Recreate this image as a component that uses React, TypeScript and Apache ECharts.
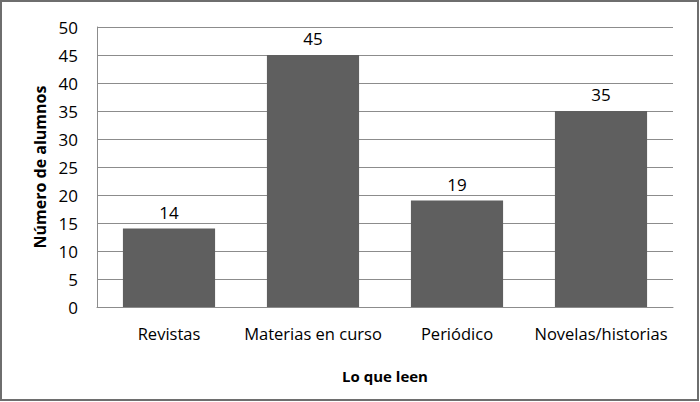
import React, { useEffect, useRef } from "react";
import * as echarts from "echarts";

const categories = ["Revistas", "Materias en curso", "Periódico", "Novelas/historias"];
const values = [14, 45, 19, 35];
const yTicks = { min: 0, max: 50, interval: 5 };
const xTitle = "Lo que leen";
const yTitle = "Número de alumnos";

const FONT = "'Open Sans', 'Noto Sans', sans-serif";

export default function App() {
  const ref = useRef<HTMLDivElement>(null);
  useEffect(() => {
    document.body.style.margin = "0";
    const chart = echarts.init(ref.current!, null, { renderer: "svg" });
    chart.setOption({
      animation: false,
      backgroundColor: "#ffffff",
      textStyle: { fontFamily: FONT },
      graphic: [
        {
          type: "rect",
          shape: { x: 1, y: 1, width: 697, height: 399 },
          style: { fill: "none", stroke: "#6e6e6e", lineWidth: 2 },
          silent: true,
        },
      ],
      grid: { left: 97, right: 27, top: 27, bottom: 95 },
      xAxis: {
        type: "category",
        data: categories,
        name: xTitle,
        nameLocation: "middle",
        nameGap: 61,
        nameTextStyle: { fontFamily: FONT, fontSize: 15, fontWeight: "bold", color: "#000" },
        axisLine: { lineStyle: { color: "#8c8c8c", width: 1 } },
        axisTick: { show: false },
        axisLabel: { fontFamily: FONT, fontSize: 16.5, color: "#000", margin: 18, interval: 0 },
      },
      yAxis: {
        type: "value",
        min: yTicks.min,
        max: yTicks.max,
        interval: yTicks.interval,
        name: yTitle,
        nameLocation: "middle",
        nameGap: 46,
        nameTextStyle: { fontFamily: FONT, fontSize: 16, fontWeight: "bold", color: "#000" },
        axisLine: { show: true, lineStyle: { color: "#8c8c8c", width: 1 } },
        axisTick: { show: false },
        axisLabel: { fontFamily: FONT, fontSize: 17, color: "#000", margin: 19 },
        splitLine: { lineStyle: { color: "#8c8c8c", width: 1 } },
      },
      series: [
        {
          type: "bar",
          data: values,
          barCategoryGap: "36%",
          itemStyle: { color: "#5f5f5f" },
          label: {
            show: true,
            position: "top",
            distance: 8,
            fontFamily: FONT,
            fontSize: 17,
            color: "#000",
          },
        },
      ],
    });
    return () => chart.dispose();
  }, []);
  return <div ref={ref} style={{ width: 700, height: 402 }} />;
}
